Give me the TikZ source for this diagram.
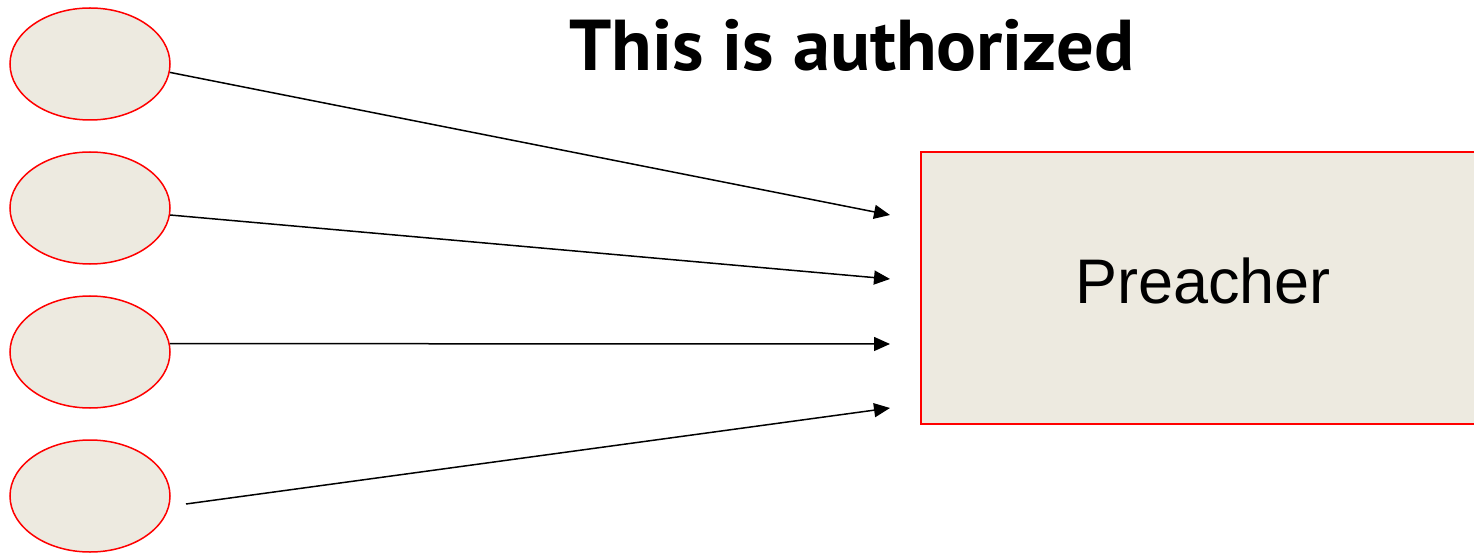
\documentclass[tikz,border=0pt]{standalone}
\usepackage{fontspec}
\setmainfont{Liberation Sans}
\newfontfamily\titlefont{PT Sans}
\usetikzlibrary{arrows.meta,shapes.geometric}
\definecolor{paper}{HTML}{EDEAE0}
\definecolor{edge}{HTML}{FF0000}
\begin{document}
\begin{tikzpicture}[x=1bp,y=-1bp,
  member/.style={ellipse,draw=edge,fill=paper,line width=1.5bp,
    minimum width=160bp,minimum height=112bp,inner sep=0pt},
  rolebox/.style={rectangle,draw=edge,fill=paper,line width=1.5bp,
    minimum width=560bp,minimum height=272bp,inner sep=0pt},
  link/.style={line width=1.5bp,-{Triangle[length=16bp,width=14bp]}}]
\useasboundingbox (0,0) rectangle (1474,554);
\begin{scope}
\clip (0,0) rectangle (1474,554);
% the four members on the left
\node[member] (m1) at (90,64) {};
\node[member] (m2) at (90,208) {};
\node[member] (m3) at (90,352) {};
\node[member] (m4) at (90,496) {};
% the role on the right
\node[rolebox] (preacher) at (1201,288) {};
\node[font=\fontsize{63bp}{70bp}\selectfont,anchor=base] (plabel) at (1203,303) {Preacher};
% title
\node[font=\titlefont\bfseries\fontsize{72bp}{80bp}\selectfont,anchor=base] (title) at (852,71) {\scalebox{1.035}[1]{This is authorized}};
% arrow ends
\coordinate (t1) at (890,215);
\coordinate (t2) at (890,279);
\coordinate (t3) at (890,344);
\coordinate (t4) at (890,408);
\coordinate (s4) at (186,504);
\draw[link] (m1.-6) -- (t1);
\draw[link] (m2.-5) -- (t2);
\draw[link] (m3.6) -- (t3);
\draw[link] (s4) -- (t4);
\end{scope}
\end{tikzpicture}
\end{document}
